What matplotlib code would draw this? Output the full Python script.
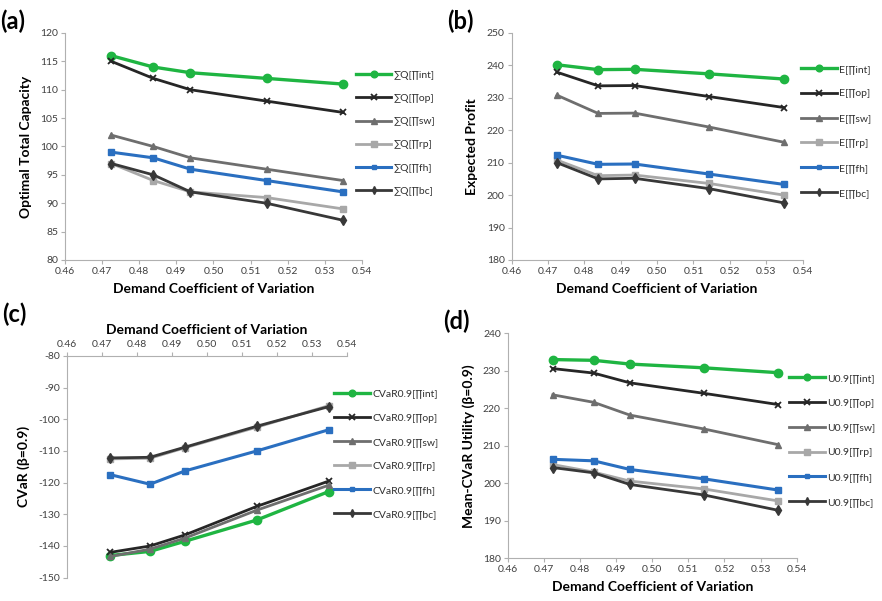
import matplotlib
matplotlib.use("Agg")
import matplotlib.pyplot as plt

plt.rcParams['font.family'] = ['Lato', 'DejaVu Sans']
plt.rcParams['axes.unicode_minus'] = False

# ---------------- data ----------------
cv = [0.4725, 0.4838, 0.4938, 0.5143, 0.5349]
series_keys = ["int", "op", "sw", "rp", "fh", "bc"]

cap_int = [116, 114, 113, 112, 111]
cap_op = [115, 112, 110, 108, 106]
cap_sw = [102, 100, 98, 96, 94]
cap_rp = [97, 94, 92, 91, 89]
cap_fh = [99, 98, 96, 94, 92]
cap_bc = [97, 95, 92, 90, 87]

ep_int = [240.2, 238.7, 238.8, 237.4, 235.8]
ep_op = [237.9, 233.7, 233.8, 230.4, 227.0]
ep_sw = [230.8, 225.2, 225.3, 221.0, 216.3]
ep_rp = [210.8, 206.0, 206.2, 203.6, 200.0]
ep_fh = [212.3, 209.5, 209.6, 206.5, 203.3]
ep_bc = [210.0, 205.0, 205.2, 202.0, 197.6]

cvar_int = [-143.0, -141.7, -138.5, -131.8, -122.8]
cvar_op = [-142.0, -140.0, -136.5, -127.5, -119.5]
cvar_sw = [-143.3, -141.0, -137.5, -128.7, -120.8]
cvar_rp = [-112.5, -112.3, -109.0, -102.5, -95.7]
cvar_fh = [-117.5, -120.5, -116.3, -110.0, -103.3]
cvar_bc = [-112.2, -112.0, -108.8, -102.2, -96.0]

u_int = [233.0, 232.8, 231.8, 230.8, 229.5]
u_op = [230.6, 229.4, 226.8, 224.0, 221.0]
u_sw = [223.6, 221.6, 218.2, 214.5, 210.3]
u_rp = [205.0, 203.0, 200.6, 198.5, 195.3]
u_fh = [206.4, 206.0, 203.7, 201.2, 198.2]
u_bc = [204.2, 202.8, 199.7, 196.9, 192.8]

x_ticks = [0.46, 0.47, 0.48, 0.49, 0.50, 0.51, 0.52, 0.53, 0.54]
x_ticklabels = ["0.46", "0.47", "0.48", "0.49", "0.50", "0.51", "0.52", "0.53", "0.54"]

labels_a = ["∑Q[∏int]", "∑Q[∏op]", "∑Q[∏sw]", "∑Q[∏rp]", "∑Q[∏fh]", "∑Q[∏bc]"]
labels_b = ["E[∏int]", "E[∏op]", "E[∏sw]", "E[∏rp]", "E[∏fh]", "E[∏bc]"]
labels_c = ["CVaR0.9[∏int]", "CVaR0.9[∏op]", "CVaR0.9[∏sw]", "CVaR0.9[∏rp]", "CVaR0.9[∏fh]", "CVaR0.9[∏bc]"]
labels_d = ["U0.9[∏int]", "U0.9[∏op]", "U0.9[∏sw]", "U0.9[∏rp]", "U0.9[∏fh]", "U0.9[∏bc]"]

# ---------------- styles ----------------
styles = {
    "int": dict(color="#1fb542", marker="o", ms=6, lw=2.4),
    "op": dict(color="#262626", marker="x", ms=5, lw=2.0, mew=1.3),
    "sw": dict(color="#6e6e6e", marker="^", ms=5, lw=2.0),
    "rp": dict(color="#a8a8a8", marker="s", ms=5, lw=2.0),
    "fh": dict(color="#2a6fc0", marker="s", ms=4, lw=2.2),
    "bc": dict(color="#383838", marker="d", ms=5, lw=2.0),
}

fig = plt.figure(figsize=(8.82, 6.01), dpi=100)

axes_pos = {
    "a": [0.0737, 0.5674, 0.3367, 0.3777],
    "b": [0.5800, 0.5674, 0.3300, 0.3777],
    "c": [0.0756, 0.0388, 0.3175, 0.3690],
    "d": [0.5756, 0.0710, 0.3277, 0.3744],
}
# legend anchor (x, y in axes fraction) and label spacing
legend_cfg = {
    "a": (0.98, 0.835, 1.34),
    "b": (0.995, 0.862, 1.49),
    "c": (0.955, 0.850, 1.42),
    "d": (0.975, 0.820, 1.48),
}

panels = [
    ("a", [cap_int, cap_op, cap_sw, cap_rp, cap_fh, cap_bc], labels_a,
     (80, 120), list(range(80, 121, 5)), "Optimal Total Capacity"),
    ("b", [ep_int, ep_op, ep_sw, ep_rp, ep_fh, ep_bc], labels_b,
     (180, 250), list(range(180, 251, 10)), "Expected Profit"),
    ("c", [cvar_int, cvar_op, cvar_sw, cvar_rp, cvar_fh, cvar_bc], labels_c,
     (-150, -80), list(range(-150, -79, 10)), "CVaR (β=0.9)"),
    ("d", [u_int, u_op, u_sw, u_rp, u_fh, u_bc], labels_d,
     (180, 240), list(range(180, 241, 10)), "Mean-CVaR Utility (β=0.9)"),
]

spine_col = "#b0b0b0"
tick_col = "#404040"

for key, data, labels, ylim, yticks, ylabel in panels:
    ax = fig.add_axes(axes_pos[key])
    for sk, vals, lab in zip(series_keys, data, labels):
        st = styles[sk]
        ax.plot(cv, vals, color=st["color"], marker=st["marker"], ms=st["ms"],
                lw=st["lw"], mew=st.get("mew", 1.0), label=lab)
    ax.set_xlim(0.46, 0.54)
    ax.set_ylim(*ylim)
    ax.set_xticks(x_ticks)
    ax.set_xticklabels(x_ticklabels)
    ax.set_yticks(yticks)
    ax.tick_params(axis="both", labelsize=7.5, colors=tick_col, length=3,
                   width=0.8, color=spine_col, pad=2)
    ax.spines["right"].set_visible(False)
    if key == "c":
        ax.xaxis.tick_top()
        ax.xaxis.set_label_position("top")
        ax.spines["bottom"].set_visible(False)
        ax.spines["top"].set_color(spine_col)
        ax.set_xlabel("Demand Coefficient of Variation", fontsize=10,
                      fontweight="bold", labelpad=4)
    else:
        ax.spines["top"].set_visible(False)
        ax.spines["bottom"].set_color(spine_col)
        ax.set_xlabel("Demand Coefficient of Variation", fontsize=10,
                      fontweight="bold", labelpad=5)
    ax.spines["left"].set_color(spine_col)
    ax.set_ylabel(ylabel, fontsize=10, fontweight="bold", labelpad=6)
    ax.patch.set_alpha(0)

    lx, ly, lsp = legend_cfg[key]
    leg = ax.legend(loc="upper left", bbox_to_anchor=(lx, ly),
                    frameon=False, fontsize=7.5, labelspacing=lsp,
                    handlelength=3.4, handletextpad=0.25, borderaxespad=0,
                    borderpad=0, markerscale=0.8)
    for t in leg.get_texts():
        t.set_color("#303030")

    x0, y0 = axes_pos[key][0], axes_pos[key][1] + axes_pos[key][3]
    fig.text(x0 - 0.073, y0 + (0.0 if key != "c" else 0.05), f"({key})",
             fontsize=17, fontweight="bold", ha="left", va="bottom")

fig.savefig("out.png", dpi=100)
